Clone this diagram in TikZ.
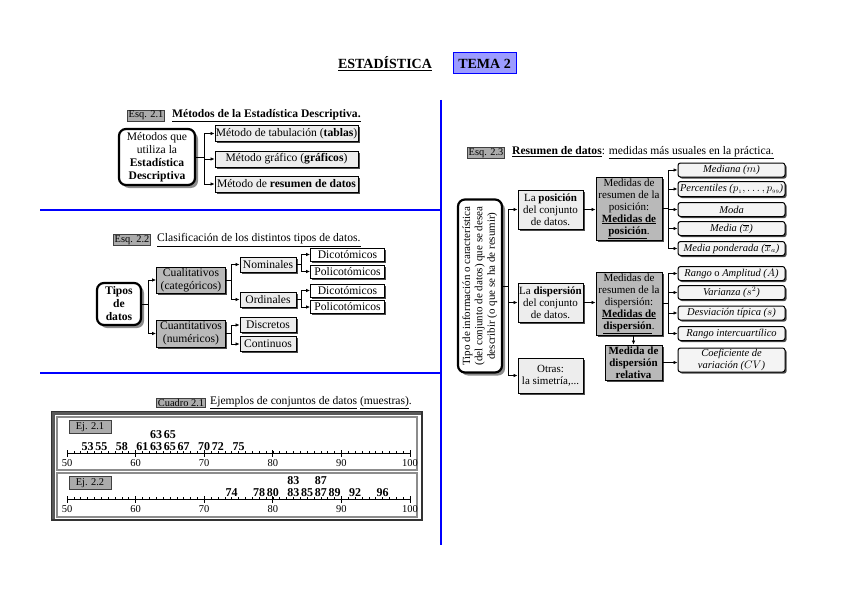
\documentclass[tikz,border=0pt]{standalone}
\usepackage{fontspec}
\setmainfont{Liberation Serif}
\usepackage{tikz}
\usetikzlibrary{positioning,arrows.meta,shadows,calc}
\definecolor{sepblue}{HTML}{0000FF}
\definecolor{temafill}{HTML}{9C9CFF}
\definecolor{boxlight}{HTML}{EDEDED}
\definecolor{boxgray}{HTML}{B9B9B9}
\definecolor{taggray}{HTML}{ABABAB}
\definecolor{shadedark}{HTML}{4A4A4A}
\definecolor{shadelight}{HTML}{8C8C8C}
\newcommand\bfont{\fontsize{11.6}{13}\selectfont}
\newcommand\hfont{\fontsize{11.6}{13}\selectfont}
\newcommand\sfont{\fontsize{11}{12}\selectfont}
\newcommand\tfont{\fontsize{10.4}{12}\selectfont}

\begin{document}
\begin{tikzpicture}[x=1pt,y=-1pt,
  base/.style={draw, line width=0.8pt, align=center, inner sep=0.5pt, font=\bfont},
  lbox/.style={base, fill=boxlight, drop shadow={shadow xshift=1.6pt, shadow yshift=-1.6pt, fill=shadedark, opacity=1}},
  wbox/.style={lbox, fill=white},
  gbox/.style={lbox, fill=boxgray},
  ibox/.style={lbox, fill=boxlight!60, rounded corners=2.5pt, line width=1pt, font=\fontsize{10.5}{11.5}\selectfont\itshape},
  rootbox/.style={base, line width=2.2pt, rounded corners=7pt, fill=white, drop shadow={shadow xshift=3pt, shadow yshift=-3pt, fill=shadelight, opacity=1}},
  tagbox/.style={draw=black!75, fill=taggray, line width=0.8pt, inner sep=1pt, font=\tfont},
  head/.style={anchor=west, inner sep=0pt, font=\hfont},
  arr/.style={line width=0.7pt, -{Latex[length=4pt,width=3.4pt]}},
  sep/.style={sepblue, line width=2pt},
  num/.style={anchor=south, font=\fontsize{12}{13}\selectfont\bfseries, inner sep=0pt},
  tick/.style={font=\fontsize{10.5}{11}\selectfont, inner sep=0pt}]
\useasboundingbox (0,0) rectangle (848,599);

\node[font=\fontsize{14}{16}\selectfont\bfseries] (est) at (385,64) {\underline{ESTADÍSTICA}};
\node[draw=sepblue, fill=temafill, line width=1pt, minimum width=63, minimum height=21,
  font=\fontsize{14}{16}\selectfont\bfseries] (tema) at (484.5,63.5) {TEMA 2};

\draw[sep] (441,100) -- (441,545);
\draw[sep] (40,210) -- (441,210);
\draw[sep] (40,373) -- (441,373);

\node[tagbox] (e21) at (146,115.5) {Esq. 2.1};
\node[head, font=\hfont\bfseries] (t21) at (172,115.5) {\underline{Métodos de la Estadística Descriptiva.}};
\node[rootbox, minimum width=76, minimum height=56] (met) at (157,157)
  {Métodos que\\utiliza la\\\textbf{Estadística}\\\textbf{Descriptiva}};
\node[lbox, minimum width=143, minimum height=16] (tab) at (286.5,133.5) {Método de tabulación (\textbf{tablas})};
\node[lbox, minimum width=143, minimum height=16] (gra) at (286.5,159) {Método gráfico (\textbf{gráficos})};
\node[lbox, minimum width=143, minimum height=16] (res) at (286.5,184) {Método de \textbf{resumen de datos}};
\foreach \c in {tab,gra,res} \draw[arr] (met.east) -- ++(8,0) |- (\c.west);

\node[tagbox] (e22) at (132,240) {Esq. 2.2};
\node[head] (t22) at (157,240) {\underline{Clasificación de los distintos tipos de datos.}};
\node[rootbox, minimum width=44, minimum height=42, font=\bfont\bfseries] (tip) at (119,304) {Tipos\\de\\datos};
\node[gbox, minimum width=69, minimum height=26] (cua) at (191,280) {Cualitativos\\(categóricos)};
\node[gbox, minimum width=69, minimum height=27] (can) at (191,333.5) {Cuantitativos\\(numéricos)};
\node[lbox, minimum width=56, minimum height=15] (nom) at (268,264.5) {Nominales};
\node[lbox, minimum width=56, minimum height=15] (ord) at (268,299.5) {Ordinales};
\node[lbox, minimum width=56, minimum height=15] (dis) at (268,325) {Discretos};
\node[lbox, minimum width=56, minimum height=15] (con) at (268,344) {Continuos};
\node[wbox, minimum width=74, minimum height=13] (nd) at (347.5,254.5) {Dicotómicos};
\node[wbox, minimum width=74, minimum height=13] (np) at (347.5,271.5) {Policotómicos};
\node[wbox, minimum width=74, minimum height=13] (od) at (347.5,290.5) {Dicotómicos};
\node[wbox, minimum width=74, minimum height=13] (op) at (347.5,307) {Policotómicos};
\foreach \c in {cua,can} \draw[arr] (tip.east) -- ++(6,0) |- (\c.west);
\foreach \c in {nom,ord} \draw[arr] (cua.east) -- ++(5,0) |- (\c.west);
\foreach \c in {dis,con} \draw[arr] (can.east) -- ++(5,0) |- (\c.west);
\foreach \c in {nd,np} \draw[arr] (nom.east) -- ++(5,0) |- (\c.west);
\foreach \c in {od,op} \draw[arr] (ord.east) -- ++(5,0) |- (\c.west);

\node[tagbox] (c21) at (181,403) {Cuadro 2.1};
\node[head] (tc21) at (210,403) {\underline{Ejemplos de conjuntos de datos} \underline{(muestras)}.};
\draw[line width=1.2pt, black!80] (52,412) rectangle (422,520);
\draw[line width=3pt, black!65] (53.5,519) -- (53.5,413.5) -- (421,413.5);
\draw[black!45, line width=1.2pt, fill=white] (57,417) rectangle (417,470);
\draw[black!45, line width=1.2pt, fill=white] (57,473) rectangle (417,517);
\node[tagbox, minimum width=42, minimum height=13] (ej1) at (90,427) {Ej. 2.1};
\node[tagbox, minimum width=42, minimum height=13] (ej2) at (90,483) {Ej. 2.2};
\foreach \y/\p in {453/a,499/b} {
  \draw[line width=0.8pt] (67,\y) -- (410,\y);
  \foreach \v in {50,...,100} \draw[line width=0.5pt] ({67+(\v-50)*6.86},\y) -- ++(0,-2);
  \foreach \v in {50,60,...,100} {
    \draw[line width=0.8pt] ({67+(\v-50)*6.86},{\y-3}) -- ++(0,7);
    \node[tick] (\p\v) at ({67+(\v-50)*6.86},{\y+10}) {\v};
  }
}
\foreach \v in {53,55,58,61,63,65,67,70,72,75} \node[num] (u\v) at ({67+(\v-50)*6.86},451) {\v};
\foreach \v in {63,65} \node[num] (uu\v) at ({67+(\v-50)*6.86},439) {\v};
\foreach \v in {74,78,80,83,85,87,89,92,96} \node[num] (w\v) at ({67+(\v-50)*6.86},497) {\v};
\foreach \v in {83,87} \node[num] (ww\v) at ({67+(\v-50)*6.86},485) {\v};

\node[tagbox] (e23) at (486,153) {Esq. 2.3};
\node[head] (t23) at (512,153) {\underline{\textbf{Resumen de datos}}: \underline{medidas más usuales en la práctica.}};
\node[rootbox, minimum width=44, minimum height=173, font=\fontsize{11}{12.3}\selectfont] (tall) at (480,286)
  {\rotatebox{90}{\begin{tabular}{@{}c@{}}Tipo de información o característica\\(del conjunto de datos) que se desea\\describir (o que se ha de resumir)\end{tabular}}};
\node[lbox, font=\sfont, minimum width=65, minimum height=39] (pos) at (550.5,209.5) {La \textbf{posición}\\del conjunto\\de datos.};
\node[lbox, font=\sfont, minimum width=65, minimum height=39] (dsp) at (550.5,302.5) {La \textbf{dispersión}\\del conjunto\\de datos.};
\node[lbox, font=\sfont, minimum width=65, minimum height=35] (otr) at (550.5,375.5) {Otras:\\la simetría,...};
\foreach \c in {pos,dsp,otr} \draw[arr] (tall.east) -- ++(5,0) |- (\c.west);
\node[gbox, font=\sfont, minimum width=66, minimum height=63] (mpo) at (629,208.5)
  {Medidas de\\resumen de la\\posición:\\\underline{\textbf{Medidas de}}\\\underline{\textbf{posición}}.};
\node[gbox, font=\sfont, minimum width=66, minimum height=63] (mdi) at (629,303.5)
  {Medidas de\\resumen de la\\dispersión:\\\underline{\textbf{Medidas de}}\\\underline{\textbf{dispersión}}.};
\node[gbox, font=\sfont\bfseries, minimum width=57, minimum height=35] (mre) at (633.5,362.5) {Medida de\\dispersión\\relativa};
\draw[arr] (pos.east) -- (pos.east -| mpo.west);
\draw[arr] (dsp.east) -- (dsp.east -| mdi.west);
\draw[arr] (mdi.south -| mre.north) -- (mre.north);
\node[ibox, minimum width=107, minimum height=14] (med) at (731.5,170) {Mediana ($m$)};
\node[ibox, minimum width=107, minimum height=15] (per) at (731.5,189) {Percentiles ($p_{\scriptscriptstyle 1},\ldots,p_{\scriptscriptstyle 99}$)};
\node[ibox, minimum width=107, minimum height=14] (mod) at (731.5,209.5) {Moda};
\node[ibox, minimum width=107, minimum height=14] (mea) at (731.5,228.5) {Media ($\overline{x}$)};
\node[ibox, minimum width=107, minimum height=14] (mpd) at (731.5,248.5) {Media ponderada ($\overline{x}_{a}$)};
\node[ibox, minimum width=107, minimum height=14] (ran) at (731.5,273.5) {Rango {\upshape o} Amplitud ($A$)};
\node[ibox, minimum width=107, minimum height=14] (var) at (731.5,292.5) {Varianza ($s^{2}$)};
\node[ibox, minimum width=107, minimum height=14] (des) at (731.5,313) {Desviación típica ($s$)};
\node[ibox, minimum width=107, minimum height=14] (riq) at (731.5,333.5) {Rango intercuartílico};
\node[ibox, minimum width=107, minimum height=24] (coe) at (731.5,360) {Coeficiente de\\variación ($CV$)};
\foreach \c in {med,per,mod,mea,mpd} \draw[arr] (mpo.east) -- ++(6,0) |- (\c.west);
\foreach \c in {ran,var,des,riq} \draw[arr] (mdi.east) -- ++(6,0) |- (\c.west);
\draw[arr] (mre.east) -- (mre.east -| coe.west);
\end{tikzpicture}
\end{document}
